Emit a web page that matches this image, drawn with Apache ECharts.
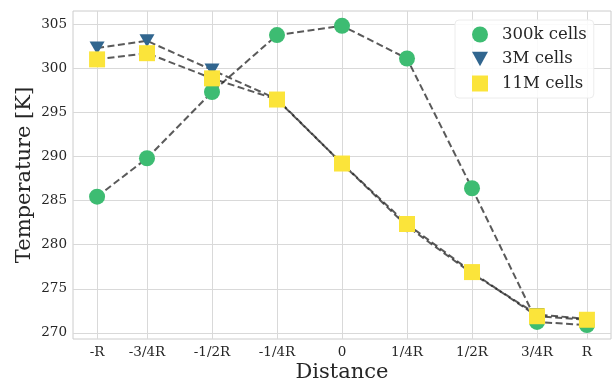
<!DOCTYPE html>
<html>
<head>
<meta charset="utf-8">
<script src="https://cdn.jsdelivr.net/npm/echarts@6/dist/echarts.min.js"></script>
<style>html,body{margin:0;padding:0;background:#fff}#c{width:614px;height:383px}</style>
</head>
<body>
<div id="c"></div>
<script>
// Data
const distancePositions = [-0.942, -0.75, -0.5, -0.25, 0, 0.25, 0.5, 0.75, 0.942];
const distanceLabels = ['-R', '-3/4R', '-1/2R', '-1/4R', '0', '1/4R', '1/2R', '3/4R', 'R'];
const temps300k = [285.45, 289.8, 297.3, 303.75, 304.8, 301.1, 286.4, 271.25, 270.9];
const temps3M   = [302.3, 303.1, 299.8, 296.5, 289.2, 282.1, 276.75, 272.1, 271.6];
const temps11M  = [301.0, 301.7, 298.85, 296.45, 289.2, 282.35, 276.9, 271.9, 271.5];
const yTicks = [270, 275, 280, 285, 290, 295, 300, 305];
const seriesNames = ['300k cells', '3M cells', '11M cells'];

const FONT = 'DejaVu Serif';
const TXT = '#262626';
const GRID = '#d9d9d9';
const LINE = 'rgba(35,35,35,0.75)';
const triPath = 'path://M0,0 L12,0 L6,11 Z';

function pairs(ys) { return distancePositions.map((x, i) => [x, ys[i]]); }

const chart = echarts.init(document.getElementById('c'), null, {renderer: 'canvas'});
const mk = (name, ys, symbol, size, color, z, rot) => ({
  name, type: 'line', data: pairs(ys), z,
  symbol, symbolSize: size, symbolRotate: rot || 0, showAllSymbol: true,
  lineStyle: {color: LINE, width: 2, type: [7, 3.5]},
  itemStyle: {color, opacity: 1},
  emphasis: {disabled: true}, animation: false
});

chart.setOption({
  animation: false,
  backgroundColor: '#fff',
  grid: {left: 73, right: 3, top: 11, bottom: 44, outerBoundsMode: 'none', containLabel: false,
    show: true, borderColor: '#cccccc', borderWidth: 1, backgroundColor: '#fff'},
  legend: {
    orient: 'vertical', left: 455, top: 20,
    padding: [6, 7, 6, 17], itemGap: 7.5, itemWidth: 16, itemHeight: 16,
    backgroundColor: 'rgba(255,255,255,0.85)', borderColor: '#ececec', borderWidth: 1, borderRadius: 4,
    textStyle: {fontFamily: FONT, fontSize: 16.5, color: TXT, padding: [0, 0, 0, 9]},
    data: [
      {name: seriesNames[0], icon: 'circle'},
      {name: seriesNames[1], icon: triPath},
      {name: seriesNames[2], icon: 'rect'}
    ]
  },
  xAxis: {
    type: 'value', min: -1.0346, max: 1.0346,
    name: 'Distance', nameLocation: 'middle', nameGap: 23, nameMoveOverlap: false,
    nameTextStyle: {fontFamily: FONT, fontSize: 21, color: TXT},
    axisLine: {show: false}, axisTick: {show: false, customValues: distancePositions},
    axisLabel: {customValues: distancePositions, margin: 6, fontFamily: FONT, fontSize: 13.5, color: TXT,
      formatter: v => { const i = distancePositions.findIndex(p => Math.abs(p - v) < 1e-6); return i >= 0 ? distanceLabels[i] : ''; }},
    splitLine: {show: true, lineStyle: {color: GRID, width: 1}}
  },
  yAxis: {
    type: 'value', min: 269.32, max: 306.48,
    name: 'Temperature [K]', nameLocation: 'middle', nameGap: 38, nameMoveOverlap: false,
    nameTextStyle: {fontFamily: FONT, fontSize: 21, color: TXT},
    axisLine: {show: false}, axisTick: {show: false, customValues: yTicks},
    axisLabel: {customValues: yTicks, margin: 6, fontFamily: FONT, fontSize: 13.5, color: TXT},
    splitLine: {show: true, lineStyle: {color: GRID, width: 1}}
  },
  series: [
    mk(seriesNames[0], temps300k, 'circle', 16, '#3dbc72', 2),
    mk(seriesNames[1], temps3M, 'triangle', [15, 13], '#31668f', 3, 180),
    mk(seriesNames[2], temps11M, 'rect', 16, '#fbe43a', 4)
  ]
});
</script>
</body>
</html>
